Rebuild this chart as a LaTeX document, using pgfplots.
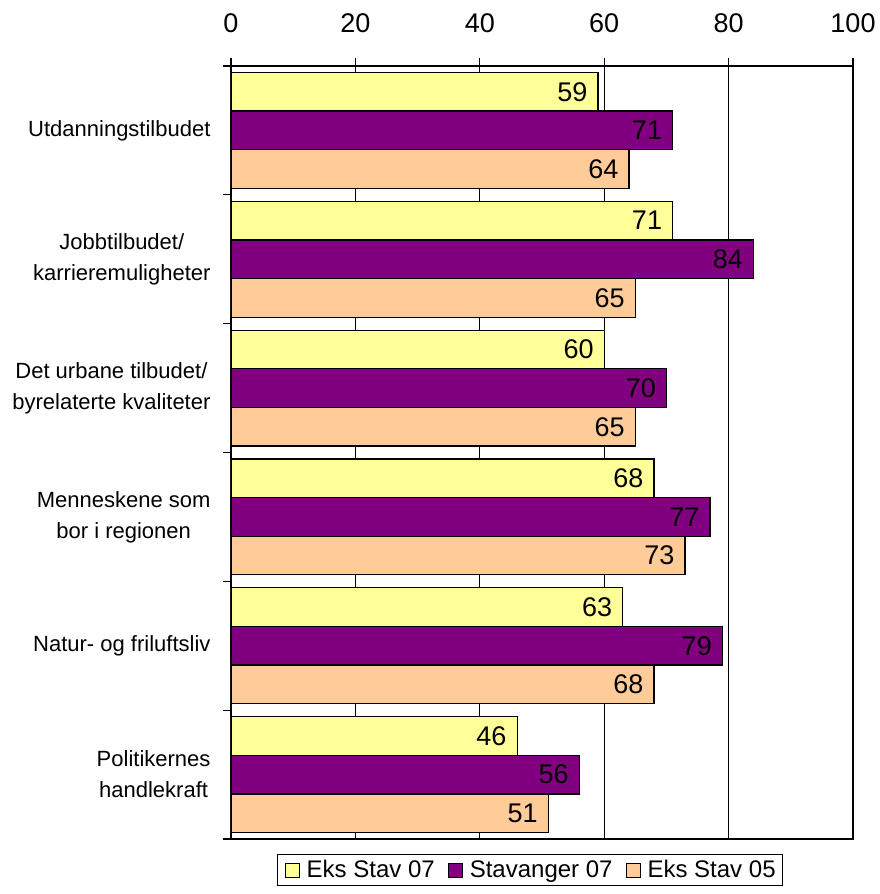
\documentclass[border=0pt]{standalone}
\usepackage{fontspec}
\setmainfont{Liberation Sans}
\usepackage{pgfplots}
\pgfplotsset{compat=1.18}

\definecolor{barYellow}{HTML}{FFFF99}
\definecolor{barPurple}{HTML}{800080}
\definecolor{barPeach}{HTML}{FFCC99}

\begin{document}
\begin{tikzpicture}
\begin{axis}[
    name=ax,
    scale only axis,
    width=622pt, height=773pt,
    xbar,
    bar width=0.3,
    xmin=0, xmax=100,
    ymin=-0.5, ymax=5.5,
    y dir=reverse,
    xtick={0,20,...,100},
    xtick pos=upper,
    xticklabel pos=upper,
    xticklabel style={font=\fontsize{27}{30}\selectfont, yshift=22pt},
    /pgf/number format/assume math mode=true,
    ytick={0,...,5},
    yticklabels={Utdanningstilbudet,
                 {Jobbtilbudet/\\karrieremuligheter},
                 {Det urbane tilbudet/\\byrelaterte kvaliteter},
                 {Menneskene som\\bor i regionen},
                 Natur- og friluftsliv,
                 {Politikernes\\handlekraft}},
    yticklabel style={font=\fontsize{22}{31}\selectfont, align=center, xshift=-9pt},
    ytick pos=left,
    major y tick style={draw=none},
    minor ytick={-0.5,0.5,...,5.5},
    tick align=outside,
    major tick length=8pt,
    minor tick length=8pt,
    tick style={black, line width=1.2pt},
    axis line style={black, line width=1.5pt},
    xmajorgrids=true,
    grid style={black, line width=1.2pt},
    nodes near coords,
    every node near coord/.append style={anchor=east, black, inner xsep=10pt,
        font=\fontsize{27}{30}\selectfont,
        /pgf/number format/assume math mode=true},
    legend columns=-1,
    legend style={at={(0.481,-0.0194)}, anchor=north, draw=black, line width=1.2pt,
        font=\fontsize{24}{28}\selectfont, inner xsep=7pt, inner ysep=6pt,
        nodes={inner sep=0pt},
        /tikz/every odd column/.append style={column sep=7pt},
        /tikz/every even column/.append style={column sep=13pt}},
    legend image code/.code={\draw[#1, line width=1pt] (0pt,-7pt) rectangle (14pt,7pt);},
]
\addplot[fill=barYellow, draw=black, line width=1.2pt, bar shift=-0.3]
    coordinates {(59,0) (71,1) (60,2) (68,3) (63,4) (46,5)};
\addplot[fill=barPurple, draw=black, line width=1.2pt, bar shift=0]
    coordinates {(71,0) (84,1) (70,2) (77,3) (79,4) (56,5)};
\addplot[fill=barPeach, draw=black, line width=1.2pt, bar shift=0.3]
    coordinates {(64,0) (65,1) (65,2) (73,3) (68,4) (51,5)};
\legend{Eks Stav 07, Stavanger 07, Eks Stav 05}
\end{axis}
\pgfresetboundingbox
\path[use as bounding box] ([shift={(-231pt,-55pt)}]ax.south west) rectangle ++(879pt,894pt);
\end{tikzpicture}
\end{document}
